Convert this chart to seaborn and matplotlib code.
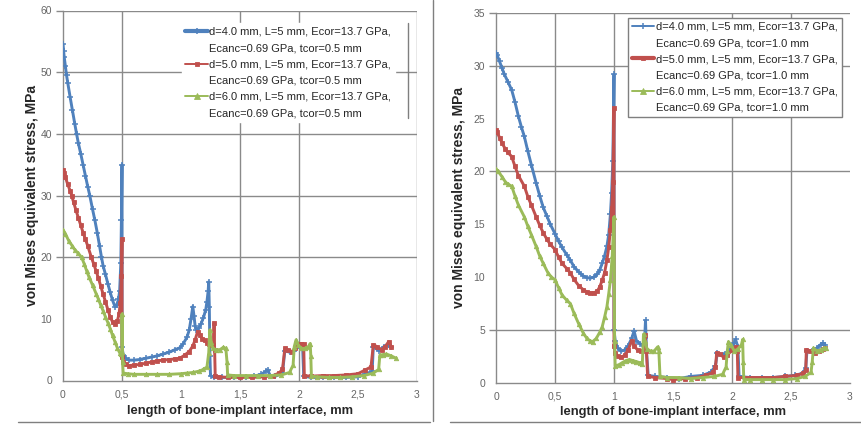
import numpy as np
import pandas as pd
import matplotlib
matplotlib.use("Agg")
import matplotlib.pyplot as plt
from matplotlib.lines import Line2D
import seaborn as sns

# ---------------- data ----------------
x_ticks = [0, 0.5, 1, 1.5, 2, 2.5, 3]
x_tick_labels = ["0", "0,5", "1", "1,5", "2", "2,5", "3"]
left_y_ticks = [0, 10, 20, 30, 40, 50, 60]
right_y_ticks = [0, 5, 10, 15, 20, 25, 30, 35]

left_labels = [
    ("d=4.0 mm, L=5 mm, Ecor=13.7 GPa,", "Ecanc=0.69 GPa, tcor=0.5 mm"),
    ("d=5.0 mm, L=5 mm, Ecor=13.7 GPa,", "Ecanc=0.69 GPa, tcor=0.5 mm"),
    ("d=6.0 mm, L=5 mm, Ecor=13.7 GPa,", "Ecanc=0.69 GPa, tcor=0.5 mm"),
]
right_labels = [
    ("d=4.0 mm, L=5 mm, Ecor=13.7 GPa,", "Ecanc=0.69 GPa, tcor=1.0 mm"),
    ("d=5.0 mm, L=5 mm, Ecor=13.7 GPa,", "Ecanc=0.69 GPa, tcor=1.0 mm"),
    ("d=6.0 mm, L=5 mm, Ecor=13.7 GPa,", "Ecanc=0.69 GPa, tcor=1.0 mm"),
]

left_d4 = [
    (0.00, 54.5), (0.005, 53.5), (0.01, 52.5), (0.02, 51), (0.03, 49.5), (0.04, 48.3),
    (0.06, 46), (0.08, 43.8), (0.10, 41.6), (0.115, 40), (0.13, 38.5), (0.15, 36.8),
    (0.17, 35), (0.19, 33.2), (0.21, 31.4), (0.227, 30), (0.25, 27.8), (0.27, 26),
    (0.29, 24), (0.31, 21.8), (0.326, 20), (0.34, 18.6), (0.36, 17.2), (0.38, 15.7),
    (0.40, 14.3), (0.42, 13), (0.44, 12), (0.455, 12.2), (0.47, 13.2), (0.48, 14.5),
    (0.49, 19), (0.495, 26), (0.50, 35), (0.50, 5.5), (0.51, 4.2), (0.53, 3.6),
    (0.56, 3.3), (0.60, 3.3), (0.65, 3.4), (0.70, 3.6), (0.75, 3.8), (0.80, 4.0),
    (0.85, 4.3), (0.90, 4.6), (0.95, 5.0), (0.99, 5.3), (1.02, 6.0), (1.05, 7.0),
    (1.07, 8.2), (1.085, 10), (1.10, 12), (1.11, 10.5), (1.12, 8.8), (1.13, 8.2),
    (1.15, 8.5), (1.17, 9.2), (1.19, 10.2), (1.21, 11.5), (1.22, 12.8), (1.23, 14.5),
    (1.235, 16), (1.24, 12), (1.245, 4), (1.25, 0.8), (1.28, 0.5), (1.35, 0.5),
    (1.45, 0.5), (1.55, 0.6), (1.62, 0.7), (1.68, 1.0), (1.72, 1.5), (1.74, 1.7),
    (1.75, 0.8), (1.80, 0.7), (1.86, 1.2), (1.88, 4.8), (1.92, 4.6), (1.96, 4.8),
    (2.00, 5.6), (2.03, 5.8), (2.04, 0.7), (2.10, 0.5), (2.20, 0.5), (2.30, 0.5),
    (2.40, 0.5), (2.50, 0.6), (2.56, 1.0), (2.62, 1.5), (2.63, 5.5), (2.68, 4.8),
    (2.72, 5.5), (2.76, 5.8), (2.78, 5.4),
]
left_d5 = [
    (0.00, 34.2), (0.01, 33.6), (0.02, 33), (0.04, 31.8), (0.06, 30.8), (0.073, 30),
    (0.09, 28.9), (0.11, 27.6), (0.13, 26.4), (0.15, 25.2), (0.17, 24), (0.19, 22.9),
    (0.21, 21.8), (0.24, 20), (0.26, 18.9), (0.28, 17.8), (0.30, 16.6), (0.32, 15.3),
    (0.34, 14), (0.36, 12.8), (0.38, 11.5), (0.40, 10.3), (0.42, 9.5), (0.44, 9.2),
    (0.46, 9.6), (0.475, 10.8), (0.485, 12.5), (0.495, 17), (0.50, 23), (0.50, 3.8),
    (0.51, 3.0), (0.53, 2.6), (0.56, 2.4), (0.60, 2.5), (0.65, 2.6), (0.70, 2.8),
    (0.75, 3.0), (0.80, 3.2), (0.85, 3.3), (0.90, 3.4), (0.95, 3.5), (0.99, 3.6),
    (1.03, 4.1), (1.07, 4.7), (1.10, 5.6), (1.12, 6.6), (1.14, 7.9), (1.16, 7.4),
    (1.18, 6.8), (1.20, 6.5), (1.22, 6.1), (1.24, 5.9), (1.26, 5.7), (1.275, 5.8),
    (1.28, 9.3), (1.285, 5), (1.29, 0.7), (1.32, 0.6), (1.40, 0.5), (1.50, 0.5),
    (1.60, 0.5), (1.70, 0.6), (1.78, 0.8), (1.83, 1.2), (1.86, 1.8), (1.88, 5.2),
    (1.91, 4.9), (1.94, 4.7), (1.97, 5.2), (2.00, 6.0), (2.02, 6.0), (2.04, 5.9),
    (2.045, 0.8), (2.10, 0.7), (2.20, 0.8), (2.30, 0.8), (2.40, 0.9), (2.50, 1.1),
    (2.56, 1.7), (2.61, 2.2), (2.63, 5.8), (2.66, 5.5), (2.70, 5.0), (2.73, 5.5),
    (2.76, 6.3), (2.78, 5.5),
]
left_d6 = [
    (0.00, 24.4), (0.02, 23.8), (0.05, 22.6), (0.08, 21.8), (0.10, 21.2), (0.13, 20.6),
    (0.157, 20), (0.18, 18.9), (0.20, 17.8), (0.22, 16.8), (0.25, 15.5), (0.28, 14.1),
    (0.30, 13.2), (0.32, 12.2), (0.34, 11.3), (0.36, 10.3), (0.38, 9.4), (0.40, 8.4),
    (0.42, 7.3), (0.44, 6.3), (0.46, 5.3), (0.48, 4.5), (0.49, 4.3), (0.50, 4.6),
    (0.50, 10.8), (0.505, 3), (0.51, 1.2), (0.55, 1.1), (0.60, 1.0), (0.70, 1.0),
    (0.80, 1.0), (0.90, 1.0), (1.00, 1.1), (1.05, 1.2), (1.10, 1.3), (1.15, 1.5),
    (1.19, 1.8), (1.22, 2.2), (1.235, 4.5), (1.244, 8.2), (1.255, 6.2), (1.27, 5.2),
    (1.30, 5.0), (1.33, 5.0), (1.36, 5.4), (1.38, 5.2), (1.39, 3), (1.395, 0.9),
    (1.45, 0.8), (1.55, 0.8), (1.65, 0.8), (1.75, 0.8), (1.85, 0.9), (1.92, 1.3),
    (1.95, 2.5), (1.96, 5.5), (1.975, 6.6), (1.99, 5.8), (2.02, 5.2), (2.05, 5.2),
    (2.08, 5.5), (2.095, 6.0), (2.10, 4), (2.105, 0.7), (2.15, 0.6), (2.25, 0.5),
    (2.35, 0.5), (2.45, 0.6), (2.55, 0.8), (2.63, 1.2), (2.675, 1.8), (2.685, 4.1),
    (2.71, 4.2), (2.74, 4.3), (2.78, 4.0), (2.825, 3.6),
]

right_d4 = [
    (0.00, 31.2), (0.01, 31.0), (0.03, 30.4), (0.05, 29.8), (0.07, 29.2), (0.10, 28.5),
    (0.133, 27.7), (0.16, 26.6), (0.19, 25.2), (0.215, 24.2), (0.24, 23.3), (0.27, 21.9),
    (0.30, 20.6), (0.34, 18.9), (0.37, 17.7), (0.40, 16.6), (0.43, 15.8), (0.46, 15.0),
    (0.50, 14.1), (0.53, 13.4), (0.56, 12.8), (0.60, 12.1), (0.63, 11.6), (0.66, 11.0),
    (0.70, 10.5), (0.74, 10.1), (0.77, 9.95), (0.80, 9.9), (0.83, 10.0), (0.86, 10.3),
    (0.88, 10.7), (0.90, 11.3), (0.92, 12.0), (0.94, 12.9), (0.955, 14.0), (0.97, 16),
    (0.98, 18), (0.99, 21), (1.00, 29.2), (1.00, 5), (1.01, 4.0), (1.03, 3.3),
    (1.06, 3.0), (1.09, 3.1), (1.12, 3.5), (1.15, 4.2), (1.17, 4.9), (1.19, 4.0),
    (1.22, 3.7), (1.25, 3.5), (1.26, 4.2), (1.267, 5.9), (1.275, 3), (1.29, 0.7),
    (1.35, 0.6), (1.45, 0.5), (1.55, 0.4), (1.65, 0.6), (1.75, 0.7), (1.82, 1.0),
    (1.86, 1.6), (1.875, 2.8), (1.92, 2.6), (1.96, 2.9), (2.00, 3.4), (2.02, 3.8),
    (2.03, 4.1), (2.05, 3.4), (2.06, 0.6), (2.15, 0.5), (2.25, 0.5), (2.35, 0.5),
    (2.45, 0.6), (2.53, 0.7), (2.60, 0.9), (2.625, 1.4), (2.635, 3.0), (2.68, 3.0),
    (2.72, 3.3), (2.75, 3.6), (2.77, 3.75), (2.79, 3.6),
]
right_d5 = [
    (0.00, 23.9), (0.01, 23.7), (0.03, 23.2), (0.05, 22.7), (0.08, 22.1), (0.10, 21.8),
    (0.133, 21.4), (0.16, 20.5), (0.19, 19.6), (0.24, 18.6), (0.27, 17.6), (0.30, 16.8),
    (0.34, 15.7), (0.37, 14.9), (0.40, 14.2), (0.43, 13.6), (0.46, 13.1), (0.50, 12.6),
    (0.53, 11.9), (0.56, 11.3), (0.60, 10.8), (0.63, 10.4), (0.66, 9.8), (0.70, 9.2),
    (0.74, 8.8), (0.77, 8.6), (0.80, 8.5), (0.83, 8.5), (0.86, 8.7), (0.88, 9.1),
    (0.90, 9.7), (0.92, 10.4), (0.94, 11.6), (0.955, 12.8), (0.97, 14.5), (0.98, 16.5),
    (0.99, 19), (1.00, 26), (1.00, 3.5), (1.01, 2.8), (1.03, 2.5), (1.06, 2.4),
    (1.09, 2.6), (1.12, 3.1), (1.15, 4.0), (1.17, 3.5), (1.20, 3.1), (1.23, 3.0),
    (1.255, 3.2), (1.265, 4.5), (1.275, 3.0), (1.285, 0.6), (1.35, 0.5), (1.45, 0.4),
    (1.50, 0.3), (1.60, 0.4), (1.70, 0.5), (1.78, 0.7), (1.84, 1.0), (1.86, 1.5),
    (1.87, 2.8), (1.90, 2.7), (1.93, 2.4), (1.96, 2.6), (2.00, 3.1), (2.03, 3.4),
    (2.045, 3.0), (2.05, 0.5), (2.15, 0.5), (2.25, 0.5), (2.35, 0.5), (2.45, 0.6),
    (2.55, 0.7), (2.60, 0.9), (2.625, 1.2), (2.63, 3.1), (2.66, 3.0), (2.70, 2.8),
    (2.74, 3.0), (2.77, 3.2), (2.79, 3.3),
]
right_d6 = [
    (0.00, 20.2), (0.02, 20.0), (0.05, 19.5), (0.08, 19.0), (0.10, 18.8), (0.133, 18.6),
    (0.16, 17.7), (0.19, 16.8), (0.24, 15.7), (0.27, 14.8), (0.30, 14.0), (0.34, 12.9),
    (0.37, 12.0), (0.40, 11.3), (0.44, 10.4), (0.47, 10.0), (0.50, 9.75), (0.53, 9.0),
    (0.56, 8.3), (0.60, 7.8), (0.63, 7.5), (0.66, 6.6), (0.70, 5.6), (0.74, 4.7),
    (0.77, 4.2), (0.80, 3.95), (0.82, 3.9), (0.85, 4.2), (0.88, 4.8), (0.90, 5.3),
    (0.92, 6.2), (0.94, 7.2), (0.955, 8.4), (0.97, 9.75), (0.985, 12), (1.00, 15.7),
    (1.005, 4), (1.01, 1.6), (1.04, 1.7), (1.07, 1.9), (1.10, 2.1), (1.13, 2.2),
    (1.16, 2.1), (1.19, 2.0), (1.22, 1.9), (1.24, 1.8), (1.25, 4.6), (1.26, 4.0),
    (1.28, 3.2), (1.31, 3.0), (1.34, 3.0), (1.37, 3.4), (1.38, 3.0), (1.39, 0.6),
    (1.45, 0.5), (1.55, 0.5), (1.65, 0.4), (1.75, 0.5), (1.85, 0.6), (1.92, 0.8),
    (1.95, 1.5), (1.96, 3.0), (1.97, 3.9), (1.99, 3.6), (2.02, 3.0), (2.05, 3.2),
    (2.08, 3.6), (2.09, 4.1), (2.095, 2), (2.10, 0.3), (2.15, 0.3), (2.25, 0.3),
    (2.35, 0.3), (2.45, 0.3), (2.55, 0.4), (2.62, 0.6), (2.67, 1.0), (2.68, 2.0),
    (2.69, 3.3), (2.72, 3.0), (2.75, 3.1), (2.78, 3.3), (2.80, 3.3),
]

# ---------------- styling ----------------
sns.set_style("white")
plt.rcParams["font.family"] = ["Liberation Sans", "DejaVu Sans"]

BLUE, RED, GREEN = "#4F81BD", "#C0504D", "#9BBB59"
GRID = "#8a8a8a"
styles = [
    dict(color=BLUE, marker="+", markersize=4.5, markeredgewidth=1.1, zorder=3),
    dict(color=RED, marker="s", markersize=2.8, markeredgewidth=0.6, zorder=4),
    dict(color=GREEN, marker="^", markersize=3.2, markeredgewidth=0.6, zorder=5),
]

fig = plt.figure(figsize=(8.61, 4.26), dpi=100)
W, H = 861.0, 426.0
axL = fig.add_axes([63 / W, (H - 380.5) / H, 354 / W, 370 / H])
axR = fig.add_axes([496 / W, (H - 382.8) / H, 354 / W, 370 / H])


def draw_panel(ax, series, yticks, ymax, vis_x, vis_y):
    for pts, st in zip(series, styles):
        df = pd.DataFrame(pts, columns=["x", "y"])
        sns.lineplot(data=df, x="x", y="y", ax=ax, estimator=None, sort=False,
                     linewidth=2.1, legend=False, markeredgecolor=st["color"], **st)
    ax.set_xlim(0, 3)
    ax.set_ylim(0, ymax)
    ax.set_xticks(x_ticks)
    ax.set_xticklabels(x_tick_labels)
    ax.set_yticks(yticks)
    ax.set_yticklabels([str(v) for v in yticks])
    ax.grid(True, color=GRID, linewidth=1.0)
    ax.set_axisbelow(True)
    for t, v in zip(ax.xaxis.get_major_ticks(), x_ticks):
        t.gridline.set_visible(v in vis_x)
    for t, v in zip(ax.yaxis.get_major_ticks(), yticks):
        t.gridline.set_visible(v in vis_y)
        t.tick1line.set_visible(v in vis_y)
    ax.tick_params(axis="y", length=5, width=1, color=GRID, labelsize=7.5,
                   labelcolor="#666666", pad=3)
    ax.tick_params(axis="x", length=0, labelsize=7.5, labelcolor="#666666", pad=6.5)
    for s in ["top", "right"]:
        ax.spines[s].set_visible(False)
    for s in ["left", "bottom"]:
        ax.spines[s].set_color(GRID)
        ax.spines[s].set_linewidth(1.0)
    ax.set_xlabel("length of bone-implant interface, mm", fontsize=9.3,
                  fontweight="bold", color="#262626")
    ax.set_ylabel("von Mises equivalent stress, MPa", fontsize=10,
                  fontweight="bold", color="#262626")


def add_legend(ax, labels, anchor, edge, thick_idx):
    handles, texts = [], []
    for i, (l1, l2) in enumerate(labels):
        st = styles[i]
        h = Line2D([], [], color=st["color"], marker=st["marker"],
                   markersize=st["markersize"] + 0.5, markeredgewidth=st["markeredgewidth"],
                   markeredgecolor=st["color"],
                   linewidth=3.0 if i == thick_idx else 1.4)
        handles += [h, Line2D([], [], linewidth=0, color="none")]
        texts += [l1, l2]
    leg = ax.legend(handles, texts, loc="upper left", bbox_to_anchor=anchor,
                    bbox_transform=ax.transAxes, borderaxespad=0, fontsize=8,
                    handlelength=2.0, handletextpad=0.15, labelspacing=0.56,
                    borderpad=0.35, frameon=True, fancybox=False, framealpha=1,
                    edgecolor=edge, facecolor="white")
    leg.get_frame().set_linewidth(1.0)
    for t in leg.get_texts():
        t.set_color("#262626")
    return leg


draw_panel(axL, [left_d4, left_d5, left_d6], left_y_ticks, 60,
           vis_x={0.5, 1.5, 2, 3}, vis_y={20, 30, 40, 50, 60})
draw_panel(axR, [right_d4, right_d5, right_d6], right_y_ticks, 35,
           vis_x={0.5, 1, 2, 2.5}, vis_y={5, 20, 30, 35})

axL.yaxis.set_label_coords(-0.068, 0.5)
axR.yaxis.set_label_coords(-0.085, 0.5)
axL.xaxis.set_label_coords(0.5, -0.066)
axR.xaxis.set_label_coords(0.5, -0.062)

add_legend(axL, left_labels, (0.335, 0.966), "white", 0)
axL.plot([0.975, 0.975], [0.709, 0.966], transform=axL.transAxes,
         color="#7f7f7f", linewidth=1.0, zorder=10, clip_on=False)
add_legend(axR, right_labels, (0.373, 0.986), "#7f7f7f", 1)

# outer chart-area borders
for xs, ys in [([18, 430], [422, 422]), ([433, 433], [0, 421]), ([450, 861], [422, 422])]:
    fig.add_artist(Line2D([v / W for v in xs], [1 - v / H for v in ys],
                          transform=fig.transFigure, color="#7f7f7f", linewidth=1.0))

fig.savefig("out.png", dpi=100)
